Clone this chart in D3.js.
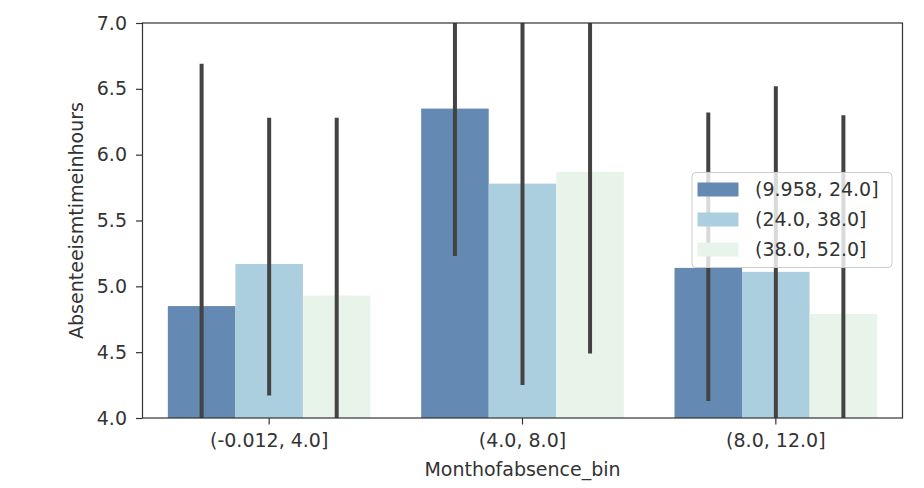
<!DOCTYPE html>
<html>
<head>
<meta charset="utf-8">
<script src="https://cdn.jsdelivr.net/npm/d3@7"></script>
<style>
  html, body { margin: 0; padding: 0; background: #fff; }
  svg { display: block; font-family: "DejaVu Sans", sans-serif; }
</style>
</head>
<body>
<svg id="chart" width="924" height="488"></svg>
<script>
const categories = ["(-0.012, 4.0]", "(4.0, 8.0]", "(8.0, 12.0]"];
const seriesNames = ["(9.958, 24.0]", "(24.0, 38.0]", "(38.0, 52.0]"];
const meanS1 = [4.85, 6.35, 5.14];
const meanS2 = [5.17, 5.78, 5.11];
const meanS3 = [4.93, 5.87, 4.79];
const lowS1 = [3.0, 5.23, 4.13];
const lowS2 = [4.17, 4.25, 3.9];
const lowS3 = [3.2, 4.49, 3.4];
const highS1 = [6.69, 7.4, 6.32];
const highS2 = [6.28, 7.5, 6.52];
const highS3 = [6.28, 7.3, 6.30];
const yTicks = [4.0, 4.5, 5.0, 5.5, 6.0, 6.5, 7.0];
const colors = ["#6489b2", "#accfe0", "#e8f3e9"];
const xLabel = "Monthofabsence_bin";
const yLabel = "Absenteeismtimeinhours";

const means = [meanS1, meanS2, meanS3];
const lows = [lowS1, lowS2, lowS3];
const highs = [highS1, highS2, highS3];

const rows = [];
categories.forEach((c, ci) => {
  seriesNames.forEach((s, si) => {
    rows.push({cat: c, ser: s, si, mean: means[si][ci], lo: lows[si][ci], hi: highs[si][ci]});
  });
});

const pL = 142.5, pR = 902.5, pT = 23, pB = 418;
const fs = 19;
const svg = d3.select("#chart");

const x = d3.scaleBand().domain(categories).range([pL, pR]).paddingInner(0.2).paddingOuter(0.1);
const xs = d3.scaleBand().domain(seriesNames).range([0, x.bandwidth()]);
const y = d3.scaleLinear().domain([4, 7]).range([pB, pT]);

svg.append("defs").append("clipPath").attr("id", "clip")
  .append("rect").attr("x", pL).attr("y", pT).attr("width", pR - pL).attr("height", pB - pT);

const plot = svg.append("g").attr("clip-path", "url(#clip)");

plot.selectAll("rect.bar").data(rows).join("rect")
  .attr("class", "bar")
  .attr("x", d => x(d.cat) + xs(d.ser))
  .attr("width", xs.bandwidth())
  .attr("y", d => y(d.mean))
  .attr("height", d => y(4) - y(d.mean) + 5)
  .attr("fill", d => colors[d.si]);

plot.selectAll("line.err").data(rows).join("line")
  .attr("class", "err")
  .attr("x1", d => x(d.cat) + xs(d.ser) + xs.bandwidth() / 2)
  .attr("x2", d => x(d.cat) + xs(d.ser) + xs.bandwidth() / 2)
  .attr("y1", d => y(d.lo))
  .attr("y2", d => y(d.hi))
  .attr("stroke", "#434343")
  .attr("stroke-width", 4);

// Axes
const yAxis = d3.axisLeft(y).tickValues(yTicks).tickFormat(d3.format(".1f")).tickSize(6.5).tickPadding(9);
const gy = svg.append("g").attr("transform", `translate(${pL},0)`).call(yAxis);
gy.select(".domain").remove();
gy.selectAll("line").attr("stroke", "#333").attr("stroke-width", 1.2);
gy.selectAll("text").attr("font-size", fs).attr("fill", "#333").attr("font-family", "DejaVu Sans");

const xAxis = d3.axisBottom(x).tickSize(6.5).tickPadding(9);
const gx = svg.append("g").attr("transform", `translate(0,${pB})`).call(xAxis);
gx.select(".domain").remove();
gx.selectAll("line").attr("stroke", "#333").attr("stroke-width", 1.2);
gx.selectAll("text").attr("font-size", fs).attr("fill", "#333").attr("font-family", "DejaVu Sans");

// Frame (spines)
svg.append("rect").attr("x", pL).attr("y", pT).attr("width", pR - pL).attr("height", pB - pT)
  .attr("fill", "none").attr("stroke", "#333").attr("stroke-width", 1.2);

// Labels
svg.append("text").attr("x", (pL + pR) / 2).attr("y", 476).attr("text-anchor", "middle")
  .attr("font-size", fs).attr("fill", "#333").text(xLabel);
svg.append("text").attr("transform", `translate(83,${(pT + pB) / 2}) rotate(-90)`)
  .attr("text-anchor", "middle").attr("font-size", fs).attr("fill", "#333").text(yLabel);

// Legend
const lg = svg.append("g");
lg.append("rect").attr("x", 692).attr("y", 172.5).attr("width", 200).attr("height", 95).attr("rx", 4)
  .attr("fill", "#fff").attr("fill-opacity", 0.8).attr("stroke", "#ccc").attr("stroke-width", 1);
seriesNames.forEach((s, i) => {
  lg.append("rect").attr("x", 697.5).attr("y", 182.5 + i * 30).attr("width", 41).attr("height", 14)
    .attr("fill", colors[i]);
  lg.append("text").attr("x", 755).attr("y", 189.5 + i * 30).attr("dy", "0.35em")
    .attr("font-size", fs).attr("fill", "#333").text(s);
});
</script>
</body>
</html>
